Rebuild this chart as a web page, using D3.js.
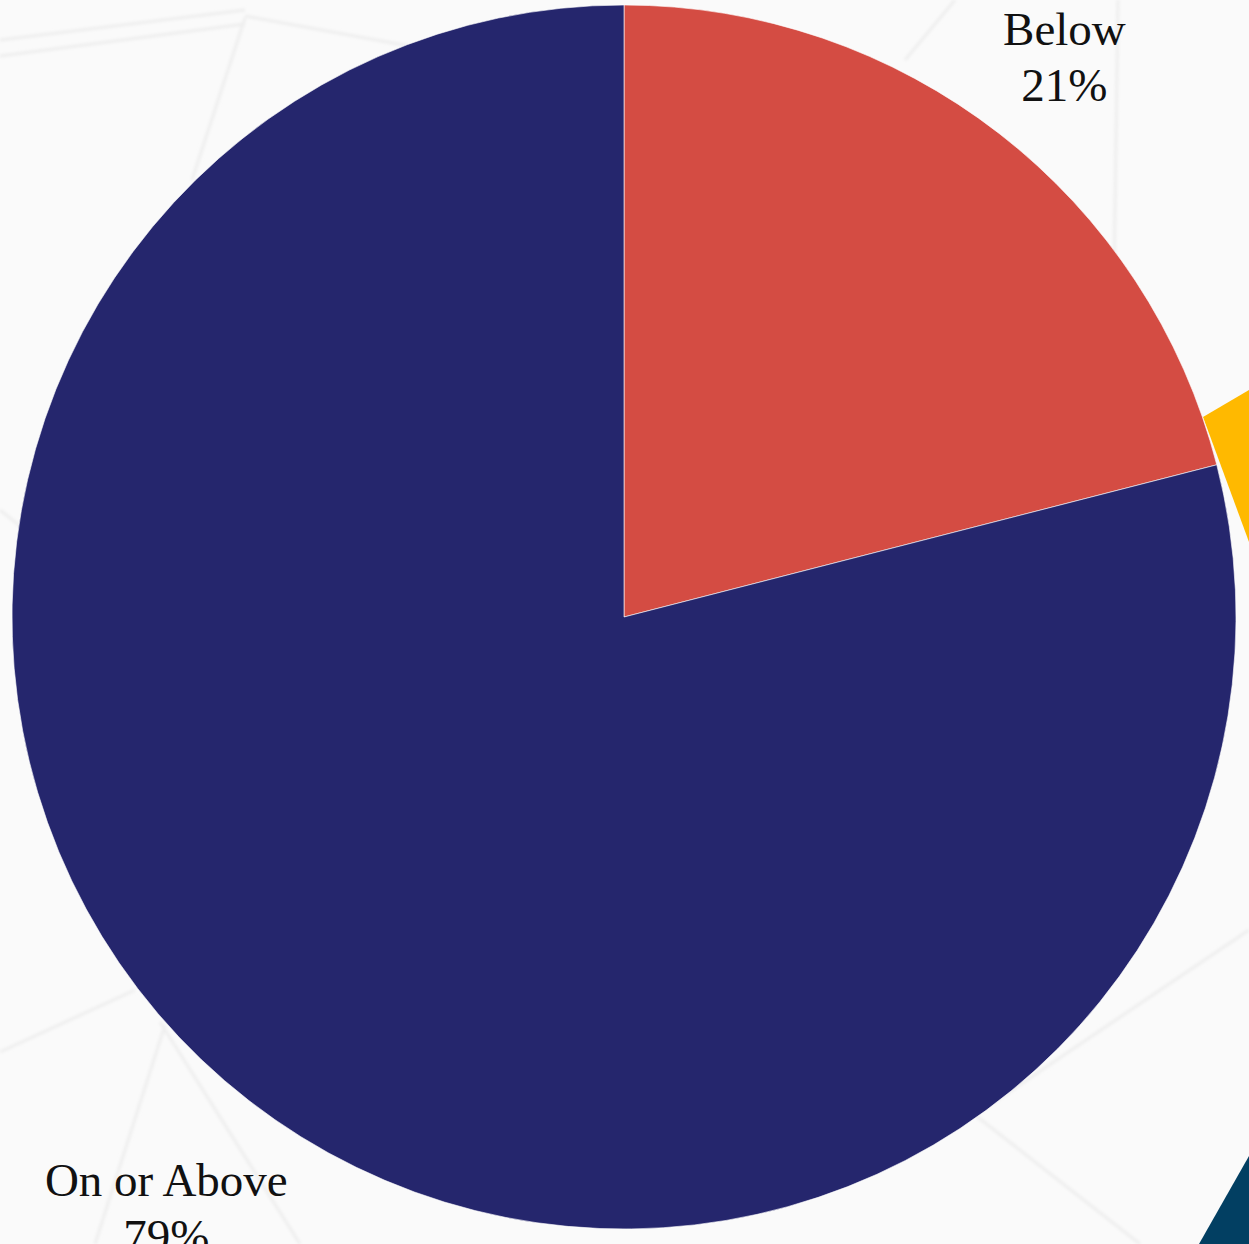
<!DOCTYPE html>
<html>
<head>
<meta charset="utf-8">
<script src="https://cdn.jsdelivr.net/npm/d3@7/dist/d3.min.js"></script>
<style>
  html, body { margin: 0; padding: 0; background: #fafafa; overflow: hidden; }
  svg { display: block; }
</style>
</head>
<body>
<svg id="chart" width="1249" height="1244"></svg>
<script>
// Share of results relative to the benchmark
const categories = ["Below", "On or Above"];
const values = [21, 79];
const labels = ["21%", "79%"];
const colors = ["#d44c43", "#25266d"];

const width = 1249, height = 1244;
const cx = 624, cy = 617, radius = 612;

const svg = d3.select("#chart");

// Soft backdrop: light panel with faint geometric facets
const defs = svg.append("defs");
defs.append("filter").attr("id", "soft")
  .append("feGaussianBlur").attr("stdDeviation", 1.4);

svg.append("rect").attr("width", width).attr("height", height).attr("fill", "#fafafa");

const facets = [
  [[0, 40], [245, 10]],
  [[0, 56], [245, 24]],
  [[245, 18], [192, 180]],
  [[245, 16], [420, 48]],
  [[0, 1052], [135, 990]],
  [[165, 1025], [95, 1244]],
  [[160, 1022], [300, 1244]],
  [[1249, 930], [975, 1115]],
  [[975, 1115], [1140, 1244]],
  [[1118, 0], [1112, 420]],
  [[905, 60], [955, 0]],
  [[0, 510], [25, 530]]
];
svg.append("g")
  .attr("filter", "url(#soft)")
  .selectAll("line").data(facets).join("line")
  .attr("x1", d => d[0][0]).attr("y1", d => d[0][1])
  .attr("x2", d => d[1][0]).attr("y2", d => d[1][1])
  .attr("stroke", "#eeeeee").attr("stroke-width", 3);

// Accent shapes on the right edge
svg.append("polygon")
  .attr("points", [[1203, 417], [1249, 390], [1249, 542]].map(p => p.join(",")).join(" "))
  .attr("fill", "#ffb900");
svg.append("polygon")
  .attr("points", [[1199, 1244], [1249, 1156], [1249, 1244]].map(p => p.join(",")).join(" "))
  .attr("fill", "#023f62");

// Pie
const pie = d3.pie().sort(null).value(d => d.value);
const data = pie(categories.map((c, i) => ({ category: c, value: values[i], label: labels[i], color: colors[i] })));
const arc = d3.arc().innerRadius(0).outerRadius(radius);

const g = svg.append("g").attr("transform", `translate(${cx},${cy})`);
g.selectAll("path").data(data).join("path")
  .attr("d", arc)
  .attr("fill", d => d.data.color)
  .attr("stroke", "#ffffff")
  .attr("stroke-width", 0.6);

// Outside labels: category over percentage, placed along each slice's mid-angle
const labelRadius = [712, 750];
const labelNudge = [[4, 3], [2, -2]];
const lineGap = 56;
const lbl = g.selectAll("g.lbl").data(data).join("g")
  .attr("class", "lbl")
  .attr("transform", (d, i) => {
    const a = (d.startAngle + d.endAngle) / 2;
    const r = labelRadius[i];
    return `translate(${r * Math.sin(a) + labelNudge[i][0]},${-r * Math.cos(a) + labelNudge[i][1]})`;
  });
const font = "'Liberation Serif', 'DejaVu Serif', serif";
lbl.append("text")
  .attr("text-anchor", "middle")
  .attr("y", -lineGap / 2 + 16)
  .attr("font-family", font)
  .attr("font-size", 47)
  .attr("fill", "#111")
  .text(d => d.data.category);
lbl.append("text")
  .attr("text-anchor", "middle")
  .attr("y", lineGap / 2 + 16)
  .attr("font-family", font)
  .attr("font-size", 47)
  .attr("fill", "#111")
  .text(d => d.data.label);
</script>
</body>
</html>
